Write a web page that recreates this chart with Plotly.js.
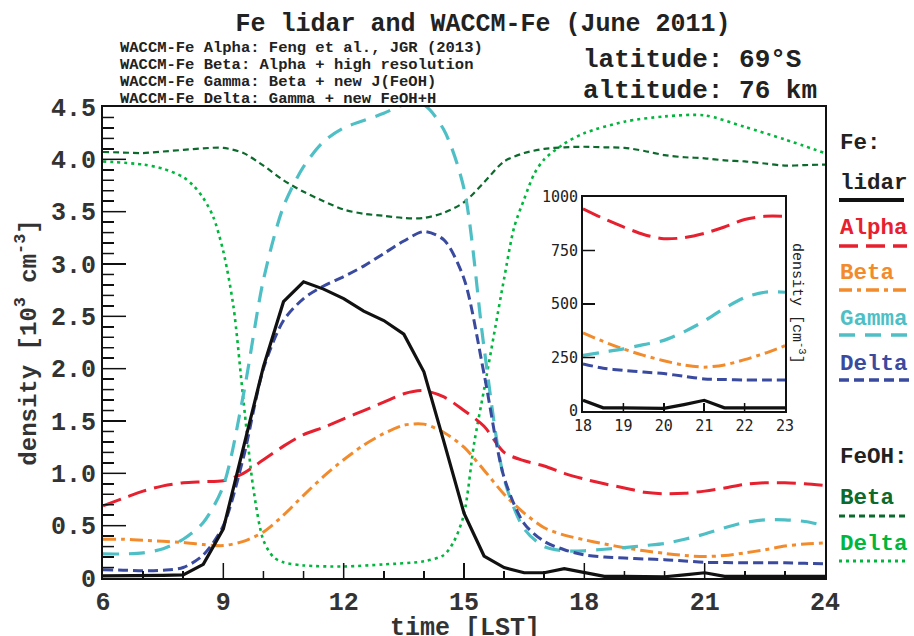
<!DOCTYPE html>
<html>
<head>
<meta charset="utf-8">
<script src="https://cdn.plot.ly/plotly-3.0.1.min.js"></script>
<style>html,body{margin:0;padding:0;background:#fff;}#chart{width:914px;height:636px;}</style>
</head>
<body>
<div id="chart"></div>
<script>
// ---------- data ----------
const hours = [6,6.5,7,7.5,8,8.5,9,9.5,10,10.5,11,11.5,12,12.5,13,13.5,14,14.5,15,15.5,16,16.5,17,17.5,18,18.5,19,19.5,20,20.5,21,21.5,22,22.5,23,23.5,24];
const lidarFe = [0.02,0.02,0.02,0.025,0.03,0.13,0.47,1.24,2.02,2.64,2.83,2.76,2.67,2.55,2.46,2.33,1.97,1.3,0.62,0.21,0.1,0.05,0.05,0.09,0.05,0.015,0.015,0.012,0.012,0.03,0.05,0.015,0.015,0.015,0.015,0.015,0.015];
const alphaFe = [0.69,0.76,0.83,0.88,0.91,0.92,0.93,1.0,1.13,1.26,1.37,1.44,1.52,1.6,1.68,1.76,1.79,1.73,1.6,1.45,1.2,1.12,1.07,1.0,0.945,0.9,0.86,0.82,0.805,0.81,0.83,0.86,0.895,0.91,0.91,0.9,0.885];
const betaFe = [0.37,0.37,0.36,0.35,0.34,0.32,0.31,0.35,0.44,0.6,0.79,0.97,1.13,1.27,1.38,1.46,1.47,1.39,1.25,1.03,0.8,0.62,0.48,0.41,0.365,0.325,0.29,0.26,0.235,0.215,0.205,0.215,0.24,0.27,0.305,0.325,0.335];
const gammaFe = [0.23,0.23,0.24,0.28,0.37,0.53,0.88,1.75,2.85,3.55,3.93,4.17,4.3,4.37,4.44,4.52,4.52,4.28,3.72,2.2,0.95,0.47,0.3,0.26,0.26,0.275,0.29,0.31,0.33,0.37,0.42,0.48,0.53,0.555,0.555,0.54,0.5];
const deltaFe = [0.08,0.075,0.07,0.075,0.1,0.22,0.5,1.15,2.0,2.46,2.67,2.79,2.88,2.98,3.1,3.22,3.31,3.23,2.86,1.95,0.96,0.52,0.35,0.27,0.22,0.2,0.19,0.182,0.175,0.162,0.15,0.147,0.145,0.145,0.145,0.14,0.135];
const betaFeOH = [4.07,4.065,4.06,4.075,4.09,4.105,4.11,4.06,3.94,3.8,3.69,3.6,3.52,3.48,3.46,3.44,3.44,3.49,3.59,3.78,3.98,4.06,4.1,4.115,4.12,4.115,4.11,4.08,4.04,4.02,4.01,3.99,3.98,3.96,3.94,3.945,3.95];
const deltaFeOHHours = [6,7,7.5,8,8.25,8.5,8.75,9,9.25,9.5,9.75,10,10.25,10.5,11,12,13,14,14.5,14.75,15,15.25,15.5,15.75,16,16.25,16.5,16.75,17,17.5,18,19,20,21,22,23,24];
const deltaFeOH = [3.98,3.95,3.91,3.83,3.75,3.63,3.45,3.12,2.6,1.7,0.85,0.36,0.2,0.15,0.12,0.11,0.13,0.16,0.22,0.35,0.61,1.28,1.8,2.33,2.86,3.35,3.62,3.86,4.0,4.15,4.25,4.36,4.41,4.42,4.31,4.19,4.06];

// inset (cm^-3)
const insetHours = [18,18.5,19,19.5,20,20.5,21,21.5,22,22.5,23];
const insetLidar = [50,15,15,12,12,30,50,15,15,15,15];
const insetAlpha = [945,900,860,825,805,810,830,860,895,910,910];
const insetBeta  = [365,325,290,260,235,215,205,215,240,270,305];
const insetGamma = [260,275,290,310,330,370,420,480,530,555,555];
const insetDelta = [220,200,190,182,175,162,150,147,145,145,145];

// ticks
const yTickVals = [0,0.5,1,1.5,2,2.5,3,3.5,4,4.5];
const yTickText = ["0","0.5","1.0","1.5","2.0","2.5","3.0","3.5","4.0","4.5"];
const xTickVals = [6,9,12,15,18,21,24];
const xMinorVals = [7,8,10,11,13,14,16,17,19,20,22,23];
const insetYTicks = [0,250,500,750,1000];
const insetXTicks = [18,19,20,21,22,23];

const notes = ["WACCM-Fe Alpha: Feng et al., JGR (2013)","WACCM-Fe Beta: Alpha + high resolution","WACCM-Fe Gamma: Beta + new J(FeOH)","WACCM-Fe Delta: Gamma + new FeOH+H"];

// ---------- styles ----------
const C = {lidar:'#111111', alpha:'#e6202f', beta:'#f28b2c', gamma:'#4fbfc6', delta:'#394a9f', feohBeta:'#0b6a2c', feohDelta:'#00b63c'};
const D = {lidar:'solid', alpha:'19px,8px', beta:'13px,5px,4px,5px', gamma:'16px,10px', delta:'10px,5px', feohBeta:'6px,4px', feohDelta:'3px,4px'};
const W = {lidar:3.2, alpha:3, beta:3, gamma:3.2, delta:3, feohBeta:2.2, feohDelta:2.6};
const MONO = '"Liberation Mono", "Courier New", monospace';

const L=103, R=825, T=107, B=578;
const px = x => (x-L)/(R-L);
const py = y => (B-y)/(B-T);
const PW = R-L, PH = B-T;

const yMinorVals = [];
for(let i=1;i<45;i++){ if(i%5!==0) yMinorVals.push(+(i/10).toFixed(1)); }

function tr(x,y,k,xa,ya,shape){
  return {x:x,y:y,type:'scatter',mode:'lines',xaxis:xa,yaxis:ya,showlegend:false,hoverinfo:'skip',
    line:{color:C[k],width:W[k],dash:D[k],shape:shape||'spline',smoothing:0.8}};
}
const traces = [
  tr(hours,betaFeOH,'feohBeta','x','y'),
  tr(deltaFeOHHours,deltaFeOH,'feohDelta','x','y'),
  tr(hours,alphaFe,'alpha','x','y'),
  tr(hours,betaFe,'beta','x','y'),
  tr(hours,gammaFe,'gamma','x','y'),
  tr(hours,deltaFe,'delta','x','y'),
  tr(hours,lidarFe,'lidar','x','y','linear'),
  tr(insetHours,insetAlpha,'alpha','x2','y2'),
  tr(insetHours,insetBeta,'beta','x2','y2'),
  tr(insetHours,insetGamma,'gamma','x2','y2'),
  tr(insetHours,insetDelta,'delta','x2','y2'),
  tr(insetHours,insetLidar,'lidar','x2','y2','linear'),
];

// ---------- annotations / legend ----------
const ann = [];
notes.forEach((t,i)=>ann.push({text:t,xref:'paper',yref:'paper',x:px(118),y:py(48+i*17),xanchor:'left',yanchor:'middle',showarrow:false,font:{family:MONO,size:15.5,color:'#222',weight:'bold'}}));
ann.push({text:'latitude: 69°S',xref:'paper',yref:'paper',x:px(581),y:py(60),xanchor:'left',yanchor:'middle',showarrow:false,font:{family:MONO,size:26,color:'#222',weight:'bold'}});
ann.push({text:'altitude: 76 km',xref:'paper',yref:'paper',x:px(581),y:py(91),xanchor:'left',yanchor:'middle',showarrow:false,font:{family:MONO,size:26,color:'#222',weight:'bold'}});
ann.push({text:'density [cm<sup>-3</sup>]',xref:'paper',yref:'paper',x:px(798),y:py(303),xanchor:'center',yanchor:'middle',textangle:90,showarrow:false,font:{family:MONO,size:15,color:'#222'}});
ann.push({text:'time [LST]',xref:'paper',yref:'paper',x:px(465),y:py(628),xanchor:'center',yanchor:'middle',showarrow:false,font:{family:MONO,size:25,color:'#333',weight:'bold'}});

const legendItems = [
  {t:'Fe:',c:'#222',y:143},
  {t:'lidar',c:'#222',y:183,k:'lidar',ly:200,x2:904},
  {t:'Alpha',c:C.alpha,y:228,k:'alpha',ly:246,x2:907},
  {t:'Beta',c:C.beta,y:273,k:'beta',ly:290,x2:910},
  {t:'Gamma',c:C.gamma,y:319,k:'gamma',ly:335,x2:911},
  {t:'Delta',c:C.delta,y:364,k:'delta',ly:380,x2:913},
  {t:'FeOH:',c:'#222',y:457},
  {t:'Beta',c:C.feohBeta,y:498,k:'feohBeta',ly:516,x2:905},
  {t:'Delta',c:C.feohDelta,y:544,k:'feohDelta',ly:561,x2:905},
];
const shapes = [];
legendItems.forEach(it=>{
  ann.push({text:it.t,xref:'paper',yref:'paper',x:px(838),y:py(it.y),xanchor:'left',yanchor:'middle',showarrow:false,font:{family:MONO,size:22.5,color:it.c,weight:'bold'}});
  if(it.k){
    shapes.push({type:'line',xref:'paper',yref:'paper',x0:px(839),x1:px(it.x2),y0:py(it.ly),y1:py(it.ly),
      line:{color:C[it.k],width:it.k==='lidar'?4:(it.k.startsWith('feoh')?3:3.5),dash:D[it.k]}});
  }
});

// inward tick marks built from the tick arrays (drawn as axis-referenced shapes)
const insetXDom = [px(583),px(785)], insetYDom = [py(411),py(197)];
const tickLine = {color:'#111',width:1.5};
function xTicks(vals,xref,yBase,lenPx){ vals.forEach(v=>shapes.push({type:'line',layer:'above',xref:xref,yref:'paper',x0:v,x1:v,y0:yBase,y1:yBase+lenPx/PH,line:tickLine})); }
function yTicks(vals,yref,xBase,lenPx){ vals.forEach(v=>shapes.push({type:'line',layer:'above',xref:'paper',yref:yref,x0:xBase,x1:xBase+lenPx/PW,y0:v,y1:v,line:tickLine})); }
xTicks(xTickVals.slice(1,-1),'x',0,15);
xTicks(xMinorVals,'x',0,7);
yTicks(yTickVals.slice(1,-1),'y',0,23);
yTicks(yMinorVals,'y',0,11);
xTicks(insetXTicks.slice(1,-1),'x2',insetYDom[0],8);
yTicks(insetYTicks.slice(1,-1),'y2',insetXDom[0],12);

const axisBase = {showline:true,linewidth:2,linecolor:'#111',mirror:true,showgrid:false,zeroline:false,ticks:'inside',tickcolor:'#111',layer:'above traces'};

const layout = {
  width:914,height:636,
  margin:{l:L,r:914-R,t:T,b:636-B},
  paper_bgcolor:'#fff',plot_bgcolor:'rgba(0,0,0,0)',
  showlegend:false,
  title:{text:'Fe lidar and WACCM-Fe (June 2011)',x:483/914,xanchor:'center',y:1-22/636,yanchor:'middle',
    font:{family:MONO,size:25,color:'#222',weight:'bold'}},
  xaxis:Object.assign({},axisBase,{domain:[0,1],range:[6,24],tickmode:'array',tickvals:xTickVals,ticklen:15,tickwidth:1.5,
    minor:{tickmode:'array',tickvals:xMinorVals,ticks:'inside',ticklen:7,tickwidth:1.5,tickcolor:'#111'},
    tickfont:{family:MONO,size:25,color:'#333',weight:'bold'}}),
  yaxis:Object.assign({},axisBase,{domain:[0,1],range:[0,4.5],tickmode:'array',tickvals:yTickVals,ticktext:yTickText,ticklen:23,tickwidth:1.5,
    minor:{tickmode:'array',tickvals:yMinorVals,ticks:'inside',ticklen:11,tickwidth:1.5,tickcolor:'#111'},
    tickfont:{family:MONO,size:25,color:'#333',weight:'bold'},
    title:{text:'density [10<sup>3</sup> cm<sup>-3</sup>]',standoff:8,font:{family:MONO,size:24,color:'#333',weight:'bold'}}}),
  xaxis2:Object.assign({},axisBase,{anchor:'y2',domain:insetXDom,range:[18,23],tickmode:'array',tickvals:insetXTicks,ticklen:8,tickwidth:1.5,
    tickfont:{family:'"DejaVu Sans Mono", monospace',size:15,color:'#222'}}),
  yaxis2:Object.assign({},axisBase,{anchor:'x2',domain:insetYDom,range:[0,1000],tickmode:'array',tickvals:insetYTicks,ticklen:12,tickwidth:1.5,
    tickfont:{family:'"DejaVu Sans Mono", monospace',size:15,color:'#222'}}),
  annotations:ann,
  shapes:shapes
};

Plotly.newPlot('chart',traces,layout,{staticPlot:true,displayModeBar:false});
</script>
</body>
</html>
